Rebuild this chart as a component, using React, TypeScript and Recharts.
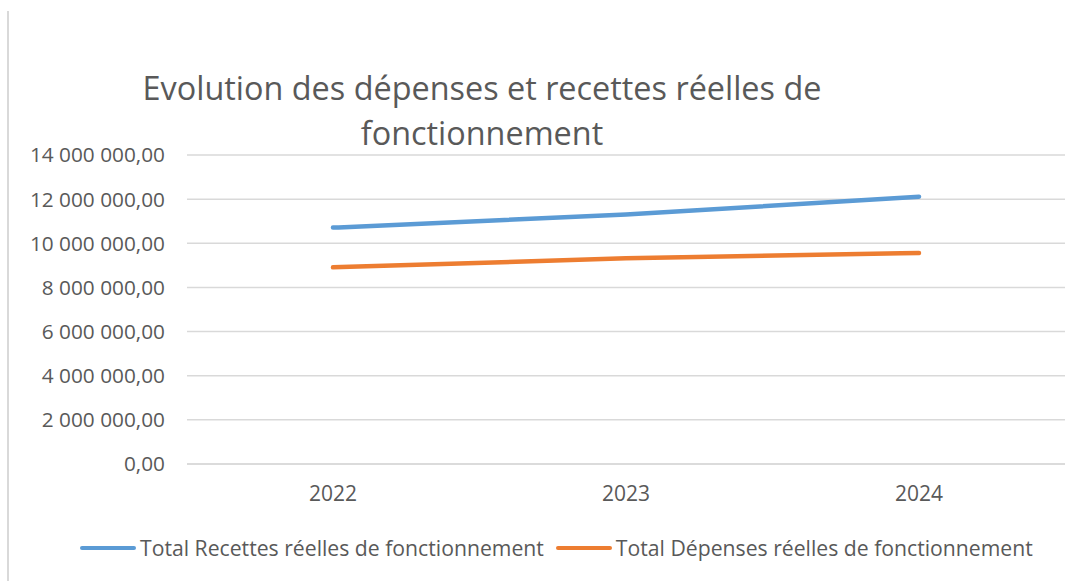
import { LineChart, Line, XAxis, YAxis, CartesianGrid } from 'recharts';

const years = ['2022', '2023', '2024'];
const recettes = [10710000, 11300000, 12110000];
const depenses = [8910000, 9320000, 9560000];
const yTicks = [0, 2000000, 4000000, 6000000, 8000000, 10000000, 12000000, 14000000];

const seriesNames = ['Total Recettes réelles de fonctionnement', 'Total Dépenses réelles de fonctionnement'];
const seriesColors = ['#5B9BD5', '#ED7D31'];
const titleLines = ['Evolution des dépenses et recettes réelles de', 'fonctionnement'];

const FONT = '"Open Sans", "Noto Sans", sans-serif';
const TEXT = '#595959';

const fmt = (v: number) => {
  const [int, dec] = v.toFixed(2).split('.');
  return int.replace(/\B(?=(\d{3})+(?!\d))/g, ' ') + ',' + dec;
};

export default function App() {
  const data = years.map((y, i) => ({ year: y, recettes: recettes[i], depenses: depenses[i] }));

  return (
    <div style={{ position: 'absolute', left: 0, top: 0, width: 1084, height: 581, background: '#fff', fontFamily: FONT, color: TEXT }}>
      <div style={{ position: 'absolute', left: 7, top: 11, width: 2, height: 570, background: '#d9d9d9' }} />

      <div style={{ position: 'absolute', left: 0, width: 964, top: 65, textAlign: 'center', fontSize: 32.4, lineHeight: '45px' }}>
        {titleLines.map(t => <div key={t}>{t}</div>)}
      </div>

      <LineChart width={1084} height={581} data={data} margin={{ top: 155, right: 19, left: 0, bottom: 77 }}>
        <CartesianGrid stroke="#d9d9d9" strokeWidth={1.5} vertical={false} />
        <XAxis
          dataKey="year"
          axisLine={{ stroke: '#d9d9d9', strokeWidth: 1.5 }}
          tickLine={false}
          padding={{ left: 146, right: 146 }}
          tick={{ fontSize: 21, fill: TEXT, fontFamily: FONT }}
          tickMargin={16}
          height={40}
        />
        <YAxis
          width={187}
          domain={[0, 14000000]}
          ticks={yTicks}
          axisLine={false}
          tickLine={false}
          tickMargin={16}
          tickFormatter={fmt}
          tick={{ fontSize: 20.8, fill: TEXT, fontFamily: FONT }}
        />
        <Line type="monotone" dataKey="recettes" name={seriesNames[0]} stroke={seriesColors[0]} strokeWidth={4.5} strokeLinecap="round" dot={false} isAnimationActive={false} />
        <Line type="monotone" dataKey="depenses" name={seriesNames[1]} stroke={seriesColors[1]} strokeWidth={4.5} strokeLinecap="round" dot={false} isAnimationActive={false} />
      </LineChart>

      <div style={{ position: 'absolute', left: 80, top: 533, display: 'flex', alignItems: 'center', fontSize: 21.2, whiteSpace: 'nowrap' }}>
        {seriesNames.map((n, i) => (
          <div key={n} style={{ display: 'flex', alignItems: 'center', marginRight: 12 }}>
            <span style={{ display: 'inline-block', width: 56, height: 4, borderRadius: 2, background: seriesColors[i], marginRight: 4 }} />
            <span>{n}</span>
          </div>
        ))}
      </div>
    </div>
  );
}
